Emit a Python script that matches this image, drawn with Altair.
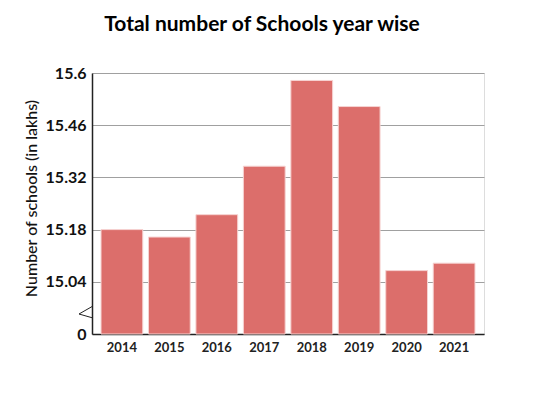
import altair as alt
import pandas as pd

years = ["2014", "2015", "2016", "2017", "2018", "2019", "2020", "2021"]
schools = [15.18, 15.16, 15.22, 15.35, 15.58, 15.51, 15.07, 15.09]
ytick_values = [14.90, 15.04, 15.18, 15.32, 15.46, 15.60]
axis_floor = 14.90

df = pd.DataFrame({"year": years, "schools": schools})

# zigzag break marker (pixel offsets relative to the plot's top-left corner)
zig = pd.DataFrame({"px": [1, -13, 1], "py": [233, 241, 245], "o": [0, 1, 2]})

FONT = "Lato"

bars = alt.Chart(df).mark_bar(color="#dc6e6b", stroke="#f6d3d2", strokeWidth=1).encode(
    x=alt.X("year:O", title=None,
            scale=alt.Scale(paddingInner=0.12, paddingOuter=0.19),
            axis=alt.Axis(labelAngle=0, ticks=False, domainColor="#222", domainWidth=1.5,
                          labelFont=FONT, labelFontSize=13, labelFontWeight="bold",
                          labelColor="#222", labelPadding=7)),
    y=alt.Y("schools:Q",
            scale=alt.Scale(domain=[14.9, 15.6], zero=False, nice=False),
            axis=alt.Axis(values=ytick_values,
                          labelExpr="datum.value < 14.95 ? '0' : format(datum.value, '.2~f')",
                          title="Number of schools (in lakhs)",
                          grid=True, gridColor="#a0a0a0", gridWidth=1,
                          ticks=False, domainColor="#222", domainWidth=1.5,
                          labelFont=FONT, labelFontSize=16, labelFontWeight="bold",
                          labelColor="#111", labelPadding=6,
                          titleFont=FONT, titleFontSize=16, titleFontWeight=500,
                          titleColor="#111", titleAngle=-90, titleAlign="center",
                          titleBaseline="middle", titleX=-61, titleY=125)),
    y2=alt.Y2(datum=axis_floor),
)

zz = alt.Chart(zig).mark_line(color="#222", strokeWidth=1).encode(
    x=alt.X("px:Q", scale=None, axis=None),
    y=alt.Y("py:Q", scale=None, axis=None),
    order="o:Q",
)

chart = alt.layer(bars, zz).resolve_scale(x="independent", y="independent").properties(
    width=392,
    height=261,
    title=alt.TitleParams("Total number of Schools year wise", font=FONT, fontSize=21,
                          fontWeight="bold", color="#000", anchor="middle", dx=-26,
                          offset=30),
    autosize=alt.AutoSizeParams(type="none"),
    padding={"left": 84, "top": 65, "right": 50, "bottom": 50},
).configure_view(stroke="#222", strokeWidth=1.5).configure(background="white")

chart.save("out.html", embed_options={"renderer": "svg", "actions": False})
